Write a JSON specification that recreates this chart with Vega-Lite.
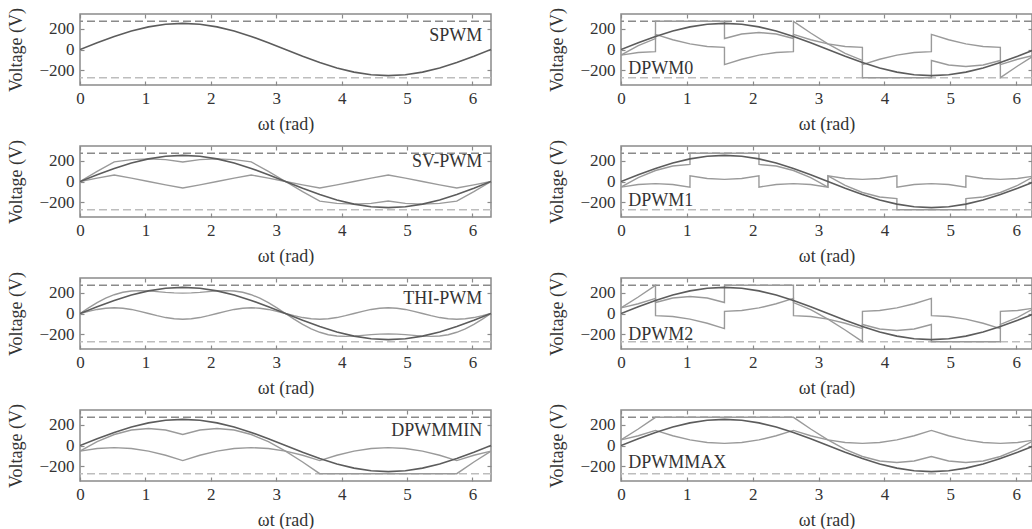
{
"$schema":"https://vega.github.io/schema/vega-lite/v6.json",
"background":"white",
"padding":{"left":7,"top":6,"right":0,"bottom":0},
"config":{
 "font":"Liberation Serif",
 "view":{"stroke":"#8a8a8a","strokeWidth":1.5},
 "axis":{"domain":false,"grid":false,"ticks":true,"tickColor":"#8a8a8a","tickSize":-4,"tickWidth":1.2,"labelFont":"Liberation Serif","labelFontSize":17,"labelColor":"#333333","labelFlush":false,"titleFont":"Liberation Serif","titleFontSize":18,"titleFontWeight":"normal","titleColor":"#333333"},
 "axisX":{"labelPadding":9,"titlePadding":9},
 "axisY":{"labelPadding":10,"titlePadding":13},
 "text":{"font":"Liberation Serif"}
},
"datasets":{
"sine":[{"t":0,"v":0},{"t":0.2618,"v":64.7},{"t":0.5236,"v":125},{"t":0.7854,"v":176.8},{"t":1.0472,"v":216.5},{"t":1.309,"v":241.5},{"t":1.5708,"v":250},{"t":1.8326,"v":241.5},{"t":2.0944,"v":216.5},{"t":2.3562,"v":176.8},{"t":2.618,"v":125},{"t":2.8798,"v":64.7},{"t":3.1416,"v":0},{"t":3.4034,"v":-64.7},{"t":3.6652,"v":-125},{"t":3.927,"v":-176.8},{"t":4.1888,"v":-216.5},{"t":4.4506,"v":-241.5},{"t":4.7124,"v":-250},{"t":4.9742,"v":-241.5},{"t":5.236,"v":-216.5},{"t":5.4978,"v":-176.8},{"t":5.7596,"v":-125},{"t":6.0214,"v":-64.7},{"t":6.2832,"v":0}],
"sv":[{"s":"m","t":0,"v":0},{"s":"m","t":0.2618,"v":97.1},{"s":"m","t":0.5236,"v":187.5},{"s":"m","t":0.7854,"v":209.2},{"s":"m","t":1.0472,"v":216.5},{"s":"m","t":1.309,"v":209.1},{"s":"m","t":1.5708,"v":187.5},{"s":"m","t":1.8326,"v":209.1},{"s":"m","t":2.0944,"v":216.5},{"s":"m","t":2.3562,"v":209.2},{"s":"m","t":2.618,"v":187.5},{"s":"m","t":2.8798,"v":97.1},{"s":"m","t":3.1416,"v":0},{"s":"m","t":3.4034,"v":-97.1},{"s":"m","t":3.6652,"v":-187.5},{"s":"m","t":3.927,"v":-209.2},{"s":"m","t":4.1888,"v":-216.5},{"s":"m","t":4.4506,"v":-209.1},{"s":"m","t":4.7124,"v":-187.5},{"s":"m","t":4.9742,"v":-209.1},{"s":"m","t":5.236,"v":-216.5},{"s":"m","t":5.4978,"v":-209.2},{"s":"m","t":5.7596,"v":-187.5},{"s":"m","t":6.0214,"v":-97.1},{"s":"m","t":6.2832,"v":0},
{"s":"z","t":0,"v":0},{"s":"z","t":0.2618,"v":32.4},{"s":"z","t":0.5236,"v":62.5},{"s":"z","t":0.7854,"v":32.4},{"s":"z","t":1.0472,"v":0},{"s":"z","t":1.309,"v":-32.4},{"s":"z","t":1.5708,"v":-62.5},{"s":"z","t":1.8326,"v":-32.4},{"s":"z","t":2.0944,"v":0},{"s":"z","t":2.3562,"v":32.4},{"s":"z","t":2.618,"v":62.5},{"s":"z","t":2.8798,"v":32.4},{"s":"z","t":3.1416,"v":0},{"s":"z","t":3.4034,"v":-32.4},{"s":"z","t":3.6652,"v":-62.5},{"s":"z","t":3.927,"v":-32.4},{"s":"z","t":4.1888,"v":0},{"s":"z","t":4.4506,"v":32.4},{"s":"z","t":4.7124,"v":62.5},{"s":"z","t":4.9742,"v":32.4},{"s":"z","t":5.236,"v":0},{"s":"z","t":5.4978,"v":-32.4},{"s":"z","t":5.7596,"v":-62.5},{"s":"z","t":6.0214,"v":-32.4},{"s":"z","t":6.2832,"v":0}],
"thi":[{"s":"m","t":0,"v":0},{"s":"m","t":0.1309,"v":53.6},{"s":"m","t":0.2618,"v":103.6},{"s":"m","t":0.3927,"v":146.5},{"s":"m","t":0.5236,"v":180},{"s":"m","t":0.6545,"v":203},{"s":"m","t":0.7854,"v":215.7},{"s":"m","t":0.9163,"v":219.3},{"s":"m","t":1.0472,"v":216.5},{"s":"m","t":1.1781,"v":210},{"s":"m","t":1.309,"v":202.6},{"s":"m","t":1.4399,"v":197.1},{"s":"m","t":1.5708,"v":195},{"s":"m","t":1.7017,"v":197.1},{"s":"m","t":1.8326,"v":202.6},{"s":"m","t":1.9635,"v":210},{"s":"m","t":2.0944,"v":216.5},{"s":"m","t":2.2253,"v":219.3},{"s":"m","t":2.3562,"v":215.7},{"s":"m","t":2.4871,"v":203},{"s":"m","t":2.618,"v":180},{"s":"m","t":2.7489,"v":146.5},{"s":"m","t":2.8798,"v":103.6},{"s":"m","t":3.0107,"v":53.6},{"s":"m","t":3.1416,"v":0},{"s":"m","t":3.2725,"v":-53.6},{"s":"m","t":3.4034,"v":-103.6},{"s":"m","t":3.5343,"v":-146.5},{"s":"m","t":3.6652,"v":-180},{"s":"m","t":3.7961,"v":-203},{"s":"m","t":3.927,"v":-215.7},{"s":"m","t":4.0579,"v":-219.3},{"s":"m","t":4.1888,"v":-216.5},{"s":"m","t":4.3197,"v":-210},{"s":"m","t":4.4506,"v":-202.6},{"s":"m","t":4.5815,"v":-197.1},{"s":"m","t":4.7124,"v":-195},{"s":"m","t":4.8433,"v":-197.1},{"s":"m","t":4.9742,"v":-202.6},{"s":"m","t":5.1051,"v":-210},{"s":"m","t":5.236,"v":-216.5},{"s":"m","t":5.3669,"v":-219.3},{"s":"m","t":5.4978,"v":-215.7},{"s":"m","t":5.6287,"v":-203},{"s":"m","t":5.7596,"v":-180},{"s":"m","t":5.8905,"v":-146.5},{"s":"m","t":6.0214,"v":-103.6},{"s":"m","t":6.1523,"v":-53.6},{"s":"m","t":6.2832,"v":0},
{"s":"z","t":0,"v":0},{"s":"z","t":0.1309,"v":21},{"s":"z","t":0.2618,"v":38.9},{"s":"z","t":0.3927,"v":50.8},{"s":"z","t":0.5236,"v":55},{"s":"z","t":0.6545,"v":50.8},{"s":"z","t":0.7854,"v":38.9},{"s":"z","t":0.9163,"v":21},{"s":"z","t":1.0472,"v":0},{"s":"z","t":1.1781,"v":-21},{"s":"z","t":1.309,"v":-38.9},{"s":"z","t":1.4399,"v":-50.8},{"s":"z","t":1.5708,"v":-55},{"s":"z","t":1.7017,"v":-50.8},{"s":"z","t":1.8326,"v":-38.9},{"s":"z","t":1.9635,"v":-21},{"s":"z","t":2.0944,"v":0},{"s":"z","t":2.2253,"v":21},{"s":"z","t":2.3562,"v":38.9},{"s":"z","t":2.4871,"v":50.8},{"s":"z","t":2.618,"v":55},{"s":"z","t":2.7489,"v":50.8},{"s":"z","t":2.8798,"v":38.9},{"s":"z","t":3.0107,"v":21},{"s":"z","t":3.1416,"v":0},{"s":"z","t":3.2725,"v":-21},{"s":"z","t":3.4034,"v":-38.9},{"s":"z","t":3.5343,"v":-50.8},{"s":"z","t":3.6652,"v":-55},{"s":"z","t":3.7961,"v":-50.8},{"s":"z","t":3.927,"v":-38.9},{"s":"z","t":4.0579,"v":-21},{"s":"z","t":4.1888,"v":0},{"s":"z","t":4.3197,"v":21},{"s":"z","t":4.4506,"v":38.9},{"s":"z","t":4.5815,"v":50.8},{"s":"z","t":4.7124,"v":55},{"s":"z","t":4.8433,"v":50.8},{"s":"z","t":4.9742,"v":38.9},{"s":"z","t":5.1051,"v":21},{"s":"z","t":5.236,"v":0},{"s":"z","t":5.3669,"v":-21},{"s":"z","t":5.4978,"v":-38.9},{"s":"z","t":5.6287,"v":-50.8},{"s":"z","t":5.7596,"v":-55},{"s":"z","t":5.8905,"v":-50.8},{"s":"z","t":6.0214,"v":-38.9},{"s":"z","t":6.1523,"v":-21},{"s":"z","t":6.2832,"v":0}],
"dmin":[{"s":"m","t":0,"v":-53.5},{"s":"m","t":0.2618,"v":36.2},{"s":"m","t":0.5236,"v":105},{"s":"m","t":0.7854,"v":148.3},{"s":"m","t":1.0472,"v":163},{"s":"m","t":1.309,"v":148.3},{"s":"m","t":1.5708,"v":105},{"s":"m","t":1.8326,"v":148.3},{"s":"m","t":2.0944,"v":163},{"s":"m","t":2.3562,"v":148.3},{"s":"m","t":2.618,"v":105},{"s":"m","t":2.8798,"v":36.2},{"s":"m","t":3.1416,"v":-53.5},{"s":"m","t":3.4034,"v":-157.9},{"s":"m","t":3.6652,"v":-270},{"s":"m","t":3.927,"v":-270},{"s":"m","t":4.1888,"v":-270},{"s":"m","t":4.4506,"v":-270},{"s":"m","t":4.7124,"v":-270},{"s":"m","t":4.9742,"v":-270},{"s":"m","t":5.236,"v":-270},{"s":"m","t":5.4978,"v":-270},{"s":"m","t":5.7596,"v":-270},{"s":"m","t":6.0214,"v":-157.9},{"s":"m","t":6.2832,"v":-53.5},
{"s":"z","t":0,"v":-53.5},{"s":"z","t":0.2618,"v":-28.5},{"s":"z","t":0.5236,"v":-20},{"s":"z","t":0.7854,"v":-28.5},{"s":"z","t":1.0472,"v":-53.5},{"s":"z","t":1.309,"v":-93.2},{"s":"z","t":1.5708,"v":-145},{"s":"z","t":1.8326,"v":-93.2},{"s":"z","t":2.0944,"v":-53.5},{"s":"z","t":2.3562,"v":-28.5},{"s":"z","t":2.618,"v":-20},{"s":"z","t":2.8798,"v":-28.5},{"s":"z","t":3.1416,"v":-53.5},{"s":"z","t":3.4034,"v":-93.2},{"s":"z","t":3.6652,"v":-145},{"s":"z","t":3.927,"v":-93.2},{"s":"z","t":4.1888,"v":-53.5},{"s":"z","t":4.4506,"v":-28.5},{"s":"z","t":4.7124,"v":-20},{"s":"z","t":4.9742,"v":-28.5},{"s":"z","t":5.236,"v":-53.5},{"s":"z","t":5.4978,"v":-93.2},{"s":"z","t":5.7596,"v":-145},{"s":"z","t":6.0214,"v":-93.2},{"s":"z","t":6.2832,"v":-53.5}],
"d0":[{"s":"m","t":0,"v":-53.5},{"s":"m","t":0.2618,"v":36.2},{"s":"m","t":0.5236,"v":105},{"s":"m","t":0.5241,"v":270},{"s":"m","t":0.7854,"v":270},{"s":"m","t":1.0472,"v":270},{"s":"m","t":1.309,"v":270},{"s":"m","t":1.5708,"v":270},{"s":"m","t":1.5713,"v":105},{"s":"m","t":1.8326,"v":148.3},{"s":"m","t":2.0944,"v":163},{"s":"m","t":2.3562,"v":148.3},{"s":"m","t":2.618,"v":105},{"s":"m","t":2.6185,"v":270},{"s":"m","t":2.8798,"v":157.9},{"s":"m","t":3.1416,"v":53.5},{"s":"m","t":3.4034,"v":-36.2},{"s":"m","t":3.6652,"v":-105},{"s":"m","t":3.6657,"v":-270},{"s":"m","t":3.927,"v":-270},{"s":"m","t":4.1888,"v":-270},{"s":"m","t":4.4506,"v":-270},{"s":"m","t":4.7124,"v":-270},{"s":"m","t":4.7129,"v":-105},{"s":"m","t":4.9742,"v":-148.3},{"s":"m","t":5.236,"v":-163},{"s":"m","t":5.4978,"v":-148.3},{"s":"m","t":5.7596,"v":-105},{"s":"m","t":5.7601,"v":-270},{"s":"m","t":6.0214,"v":-157.9},{"s":"m","t":6.2832,"v":-53.5},
{"s":"z","t":0,"v":-53.5},{"s":"z","t":0.2618,"v":-28.5},{"s":"z","t":0.5236,"v":-20},{"s":"z","t":0.5241,"v":145},{"s":"z","t":0.7854,"v":93.2},{"s":"z","t":1.0472,"v":53.5},{"s":"z","t":1.309,"v":28.5},{"s":"z","t":1.5708,"v":20},{"s":"z","t":1.5713,"v":-145},{"s":"z","t":1.8326,"v":-93.2},{"s":"z","t":2.0944,"v":-53.5},{"s":"z","t":2.3562,"v":-28.5},{"s":"z","t":2.618,"v":-20},{"s":"z","t":2.6185,"v":145},{"s":"z","t":2.8798,"v":93.2},{"s":"z","t":3.1416,"v":53.5},{"s":"z","t":3.4034,"v":28.5},{"s":"z","t":3.6652,"v":20},{"s":"z","t":3.6657,"v":-145},{"s":"z","t":3.927,"v":-93.2},{"s":"z","t":4.1888,"v":-53.5},{"s":"z","t":4.4506,"v":-28.5},{"s":"z","t":4.7124,"v":-20},{"s":"z","t":4.7129,"v":145},{"s":"z","t":4.9742,"v":93.2},{"s":"z","t":5.236,"v":53.5},{"s":"z","t":5.4978,"v":28.5},{"s":"z","t":5.7596,"v":20},{"s":"z","t":5.7601,"v":-145},{"s":"z","t":6.0214,"v":-93.2},{"s":"z","t":6.2832,"v":-53.5}],
"d1":[{"s":"m","t":0,"v":-53.5},{"s":"m","t":0.2618,"v":36.2},{"s":"m","t":0.5236,"v":105},{"s":"m","t":0.7854,"v":148.3},{"s":"m","t":1.0472,"v":163},{"s":"m","t":1.0477,"v":270},{"s":"m","t":1.309,"v":270},{"s":"m","t":1.5708,"v":270},{"s":"m","t":1.8326,"v":270},{"s":"m","t":2.0944,"v":270},{"s":"m","t":2.0949,"v":163},{"s":"m","t":2.3562,"v":148.3},{"s":"m","t":2.618,"v":105},{"s":"m","t":2.8798,"v":36.2},{"s":"m","t":3.1416,"v":-53.5},{"s":"m","t":3.1421,"v":53.5},{"s":"m","t":3.4034,"v":-36.2},{"s":"m","t":3.6652,"v":-105},{"s":"m","t":3.927,"v":-148.3},{"s":"m","t":4.1888,"v":-163},{"s":"m","t":4.1893,"v":-270},{"s":"m","t":4.4506,"v":-270},{"s":"m","t":4.7124,"v":-270},{"s":"m","t":4.9742,"v":-270},{"s":"m","t":5.236,"v":-270},{"s":"m","t":5.2365,"v":-163},{"s":"m","t":5.4978,"v":-148.3},{"s":"m","t":5.7596,"v":-105},{"s":"m","t":6.0214,"v":-36.2},{"s":"m","t":6.2832,"v":53.5},
{"s":"z","t":0,"v":-53.5},{"s":"z","t":0.2618,"v":-28.5},{"s":"z","t":0.5236,"v":-20},{"s":"z","t":0.7854,"v":-28.5},{"s":"z","t":1.0472,"v":-53.5},{"s":"z","t":1.0477,"v":53.5},{"s":"z","t":1.309,"v":28.5},{"s":"z","t":1.5708,"v":20},{"s":"z","t":1.8326,"v":28.5},{"s":"z","t":2.0944,"v":53.5},{"s":"z","t":2.0949,"v":-53.5},{"s":"z","t":2.3562,"v":-28.5},{"s":"z","t":2.618,"v":-20},{"s":"z","t":2.8798,"v":-28.5},{"s":"z","t":3.1416,"v":-53.5},{"s":"z","t":3.1421,"v":53.5},{"s":"z","t":3.4034,"v":28.5},{"s":"z","t":3.6652,"v":20},{"s":"z","t":3.927,"v":28.5},{"s":"z","t":4.1888,"v":53.5},{"s":"z","t":4.1893,"v":-53.5},{"s":"z","t":4.4506,"v":-28.5},{"s":"z","t":4.7124,"v":-20},{"s":"z","t":4.9742,"v":-28.5},{"s":"z","t":5.236,"v":-53.5},{"s":"z","t":5.2365,"v":53.5},{"s":"z","t":5.4978,"v":28.5},{"s":"z","t":5.7596,"v":20},{"s":"z","t":6.0214,"v":28.5},{"s":"z","t":6.2832,"v":53.5}],
"d2":[{"s":"m","t":0,"v":53.5},{"s":"m","t":0.2618,"v":157.9},{"s":"m","t":0.5236,"v":270},{"s":"m","t":0.5241,"v":105},{"s":"m","t":0.7854,"v":148.3},{"s":"m","t":1.0472,"v":163},{"s":"m","t":1.309,"v":148.3},{"s":"m","t":1.5708,"v":105},{"s":"m","t":1.5713,"v":270},{"s":"m","t":1.8326,"v":270},{"s":"m","t":2.0944,"v":270},{"s":"m","t":2.3562,"v":270},{"s":"m","t":2.618,"v":270},{"s":"m","t":2.6185,"v":105},{"s":"m","t":2.8798,"v":36.2},{"s":"m","t":3.1416,"v":-53.5},{"s":"m","t":3.4034,"v":-157.9},{"s":"m","t":3.6652,"v":-270},{"s":"m","t":3.6657,"v":-105},{"s":"m","t":3.927,"v":-148.3},{"s":"m","t":4.1888,"v":-163},{"s":"m","t":4.4506,"v":-148.3},{"s":"m","t":4.7124,"v":-105},{"s":"m","t":4.7129,"v":-270},{"s":"m","t":4.9742,"v":-270},{"s":"m","t":5.236,"v":-270},{"s":"m","t":5.4978,"v":-270},{"s":"m","t":5.7596,"v":-270},{"s":"m","t":5.7601,"v":-105},{"s":"m","t":6.0214,"v":-36.2},{"s":"m","t":6.2832,"v":53.5},
{"s":"z","t":0,"v":53.5},{"s":"z","t":0.2618,"v":93.2},{"s":"z","t":0.5236,"v":145},{"s":"z","t":0.5241,"v":-20},{"s":"z","t":0.7854,"v":-28.5},{"s":"z","t":1.0472,"v":-53.5},{"s":"z","t":1.309,"v":-93.2},{"s":"z","t":1.5708,"v":-145},{"s":"z","t":1.5713,"v":20},{"s":"z","t":1.8326,"v":28.5},{"s":"z","t":2.0944,"v":53.5},{"s":"z","t":2.3562,"v":93.2},{"s":"z","t":2.618,"v":145},{"s":"z","t":2.6185,"v":-20},{"s":"z","t":2.8798,"v":-28.5},{"s":"z","t":3.1416,"v":-53.5},{"s":"z","t":3.4034,"v":-93.2},{"s":"z","t":3.6652,"v":-145},{"s":"z","t":3.6657,"v":20},{"s":"z","t":3.927,"v":28.5},{"s":"z","t":4.1888,"v":53.5},{"s":"z","t":4.4506,"v":93.2},{"s":"z","t":4.7124,"v":145},{"s":"z","t":4.7129,"v":-20},{"s":"z","t":4.9742,"v":-28.5},{"s":"z","t":5.236,"v":-53.5},{"s":"z","t":5.4978,"v":-93.2},{"s":"z","t":5.7596,"v":-145},{"s":"z","t":5.7601,"v":20},{"s":"z","t":6.0214,"v":28.5},{"s":"z","t":6.2832,"v":53.5}],
"dmax":[{"s":"m","t":0,"v":53.5},{"s":"m","t":0.2618,"v":157.9},{"s":"m","t":0.5236,"v":270},{"s":"m","t":0.7854,"v":270},{"s":"m","t":1.0472,"v":270},{"s":"m","t":1.309,"v":270},{"s":"m","t":1.5708,"v":270},{"s":"m","t":1.8326,"v":270},{"s":"m","t":2.0944,"v":270},{"s":"m","t":2.3562,"v":270},{"s":"m","t":2.618,"v":270},{"s":"m","t":2.8798,"v":157.9},{"s":"m","t":3.1416,"v":53.5},{"s":"m","t":3.4034,"v":-36.2},{"s":"m","t":3.6652,"v":-105},{"s":"m","t":3.927,"v":-148.3},{"s":"m","t":4.1888,"v":-163},{"s":"m","t":4.4506,"v":-148.3},{"s":"m","t":4.7124,"v":-105},{"s":"m","t":4.9742,"v":-148.3},{"s":"m","t":5.236,"v":-163},{"s":"m","t":5.4978,"v":-148.3},{"s":"m","t":5.7596,"v":-105},{"s":"m","t":6.0214,"v":-36.2},{"s":"m","t":6.2832,"v":53.5},
{"s":"z","t":0,"v":53.5},{"s":"z","t":0.2618,"v":93.2},{"s":"z","t":0.5236,"v":145},{"s":"z","t":0.7854,"v":93.2},{"s":"z","t":1.0472,"v":53.5},{"s":"z","t":1.309,"v":28.5},{"s":"z","t":1.5708,"v":20},{"s":"z","t":1.8326,"v":28.5},{"s":"z","t":2.0944,"v":53.5},{"s":"z","t":2.3562,"v":93.2},{"s":"z","t":2.618,"v":145},{"s":"z","t":2.8798,"v":93.2},{"s":"z","t":3.1416,"v":53.5},{"s":"z","t":3.4034,"v":28.5},{"s":"z","t":3.6652,"v":20},{"s":"z","t":3.927,"v":28.5},{"s":"z","t":4.1888,"v":53.5},{"s":"z","t":4.4506,"v":93.2},{"s":"z","t":4.7124,"v":145},{"s":"z","t":4.9742,"v":93.2},{"s":"z","t":5.236,"v":53.5},{"s":"z","t":5.4978,"v":28.5},{"s":"z","t":5.7596,"v":20},{"s":"z","t":6.0214,"v":28.5},{"s":"z","t":6.2832,"v":53.5}]
},
"columns":2,
"spacing":{"row":61,"column":130},
"bounds":"flush",
"concat":[
{"width":411,"height":71,"resolve":{"axis":{"x":"independent","y":"independent"}},"layer":[
 {"data":{"values":[{}]},"mark":{"type":"rule","color":"#8a8a8a","strokeDash":[8,4],"strokeWidth":1.5},"encoding":{"y":{"datum":270,"axis":null}}},
 {"data":{"values":[{}]},"mark":{"type":"rule","color":"#bdbdbd","strokeDash":[8,4],"strokeWidth":1.5},"encoding":{"y":{"datum":-270,"axis":null}}},
 {"data":{"name":"sine"},"mark":{"type":"line","color":"#5c5c5c","strokeWidth":1.6,"clip":true},"encoding":{"x":{"field":"t","type":"quantitative","scale":{"domain":[0,6.2832],"nice":false,"zero":false},"axis":{"orient":"bottom","values":[0,1,2,3,4,5,6],"title":"ωt (rad)"}},"y":{"field":"v","type":"quantitative","scale":{"domain":[-340,340],"nice":false,"zero":false},"axis":{"orient":"left","values":[-200,0,200],"title":"Voltage (V)"}}}},
 {"data":{"name":"sine"},"mark":{"type":"line","opacity":0},"encoding":{"x":{"field":"t","type":"quantitative","scale":{"domain":[0,6.2832],"nice":false,"zero":false},"axis":{"orient":"top","values":[0,1,2,3,4,5,6],"labels":false,"title":null}},"y":{"field":"v","type":"quantitative","scale":{"domain":[-340,340],"nice":false,"zero":false},"axis":{"orient":"right","values":[-200,0,200],"labels":false,"title":null}}}},
 {"data":{"values":[{"label":"SPWM"}]},"mark":{"type":"text","align":"right","baseline":"middle","fontSize":18,"color":"#333333"},"encoding":{"text":{"field":"label"},"x":{"datum":6.15,"axis":null},"y":{"datum":125,"axis":null}}}
]},
{"width":411,"height":71,"resolve":{"axis":{"x":"independent","y":"independent"}},"layer":[
 {"data":{"values":[{}]},"mark":{"type":"rule","color":"#8a8a8a","strokeDash":[8,4],"strokeWidth":1.5},"encoding":{"y":{"datum":270,"axis":null}}},
 {"data":{"values":[{}]},"mark":{"type":"rule","color":"#bdbdbd","strokeDash":[8,4],"strokeWidth":1.5},"encoding":{"y":{"datum":-270,"axis":null}}},
 {"data":{"name":"d0"},"mark":{"type":"line","color":"#9a9a9a","strokeWidth":1.4,"clip":true},"encoding":{"detail":{"field":"s"},"x":{"field":"t","type":"quantitative","scale":{"domain":[0,6.24],"nice":false,"zero":false},"axis":null},"y":{"field":"v","type":"quantitative","scale":{"domain":[-340,340],"nice":false,"zero":false},"axis":null}}},
 {"data":{"name":"sine"},"mark":{"type":"line","color":"#5c5c5c","strokeWidth":1.6,"clip":true},"encoding":{"x":{"field":"t","type":"quantitative","scale":{"domain":[0,6.24],"nice":false,"zero":false},"axis":{"orient":"bottom","values":[0,1,2,3,4,5,6],"title":"ωt (rad)"}},"y":{"field":"v","type":"quantitative","scale":{"domain":[-340,340],"nice":false,"zero":false},"axis":{"orient":"left","values":[-200,0,200],"title":"Voltage (V)"}}}},
 {"data":{"name":"sine"},"mark":{"type":"line","opacity":0},"encoding":{"x":{"field":"t","type":"quantitative","scale":{"domain":[0,6.24],"nice":false,"zero":false},"axis":{"orient":"top","values":[0,1,2,3,4,5,6],"labels":false,"title":null}},"y":{"field":"v","type":"quantitative","scale":{"domain":[-340,340],"nice":false,"zero":false},"axis":{"orient":"right","values":[-200,0,200],"labels":false,"title":null}}}},
 {"data":{"values":[{"label":"DPWM0"}]},"mark":{"type":"text","align":"left","baseline":"middle","fontSize":18,"color":"#333333"},"encoding":{"text":{"field":"label"},"x":{"datum":0.11,"axis":null},"y":{"datum":-184,"axis":null}}}
]},
{"width":411,"height":71,"resolve":{"axis":{"x":"independent","y":"independent"}},"layer":[
 {"data":{"values":[{}]},"mark":{"type":"rule","color":"#8a8a8a","strokeDash":[8,4],"strokeWidth":1.5},"encoding":{"y":{"datum":270,"axis":null}}},
 {"data":{"values":[{}]},"mark":{"type":"rule","color":"#bdbdbd","strokeDash":[8,4],"strokeWidth":1.5},"encoding":{"y":{"datum":-270,"axis":null}}},
 {"data":{"name":"sv"},"mark":{"type":"line","color":"#9a9a9a","strokeWidth":1.4,"clip":true},"encoding":{"detail":{"field":"s"},"x":{"field":"t","type":"quantitative","scale":{"domain":[0,6.2832],"nice":false,"zero":false},"axis":null},"y":{"field":"v","type":"quantitative","scale":{"domain":[-340,340],"nice":false,"zero":false},"axis":null}}},
 {"data":{"name":"sine"},"mark":{"type":"line","color":"#5c5c5c","strokeWidth":1.6,"clip":true},"encoding":{"x":{"field":"t","type":"quantitative","scale":{"domain":[0,6.2832],"nice":false,"zero":false},"axis":{"orient":"bottom","values":[0,1,2,3,4,5,6],"title":"ωt (rad)"}},"y":{"field":"v","type":"quantitative","scale":{"domain":[-340,340],"nice":false,"zero":false},"axis":{"orient":"left","values":[-200,0,200],"title":"Voltage (V)"}}}},
 {"data":{"name":"sine"},"mark":{"type":"line","opacity":0},"encoding":{"x":{"field":"t","type":"quantitative","scale":{"domain":[0,6.2832],"nice":false,"zero":false},"axis":{"orient":"top","values":[0,1,2,3,4,5,6],"labels":false,"title":null}},"y":{"field":"v","type":"quantitative","scale":{"domain":[-340,340],"nice":false,"zero":false},"axis":{"orient":"right","values":[-200,0,200],"labels":false,"title":null}}}},
 {"data":{"values":[{"label":"SV-PWM"}]},"mark":{"type":"text","align":"right","baseline":"middle","fontSize":18,"color":"#333333"},"encoding":{"text":{"field":"label"},"x":{"datum":6.15,"axis":null},"y":{"datum":190,"axis":null}}}
]},
{"width":411,"height":71,"resolve":{"axis":{"x":"independent","y":"independent"}},"layer":[
 {"data":{"values":[{}]},"mark":{"type":"rule","color":"#8a8a8a","strokeDash":[8,4],"strokeWidth":1.5},"encoding":{"y":{"datum":270,"axis":null}}},
 {"data":{"values":[{}]},"mark":{"type":"rule","color":"#bdbdbd","strokeDash":[8,4],"strokeWidth":1.5},"encoding":{"y":{"datum":-270,"axis":null}}},
 {"data":{"name":"d1"},"mark":{"type":"line","color":"#9a9a9a","strokeWidth":1.4,"clip":true},"encoding":{"detail":{"field":"s"},"x":{"field":"t","type":"quantitative","scale":{"domain":[0,6.24],"nice":false,"zero":false},"axis":null},"y":{"field":"v","type":"quantitative","scale":{"domain":[-340,340],"nice":false,"zero":false},"axis":null}}},
 {"data":{"name":"sine"},"mark":{"type":"line","color":"#5c5c5c","strokeWidth":1.6,"clip":true},"encoding":{"x":{"field":"t","type":"quantitative","scale":{"domain":[0,6.24],"nice":false,"zero":false},"axis":{"orient":"bottom","values":[0,1,2,3,4,5,6],"title":"ωt (rad)"}},"y":{"field":"v","type":"quantitative","scale":{"domain":[-340,340],"nice":false,"zero":false},"axis":{"orient":"left","values":[-200,0,200],"title":"Voltage (V)"}}}},
 {"data":{"name":"sine"},"mark":{"type":"line","opacity":0},"encoding":{"x":{"field":"t","type":"quantitative","scale":{"domain":[0,6.24],"nice":false,"zero":false},"axis":{"orient":"top","values":[0,1,2,3,4,5,6],"labels":false,"title":null}},"y":{"field":"v","type":"quantitative","scale":{"domain":[-340,340],"nice":false,"zero":false},"axis":{"orient":"right","values":[-200,0,200],"labels":false,"title":null}}}},
 {"data":{"values":[{"label":"DPWM1"}]},"mark":{"type":"text","align":"left","baseline":"middle","fontSize":18,"color":"#333333"},"encoding":{"text":{"field":"label"},"x":{"datum":0.11,"axis":null},"y":{"datum":-184,"axis":null}}}
]},
{"width":411,"height":71,"resolve":{"axis":{"x":"independent","y":"independent"}},"layer":[
 {"data":{"values":[{}]},"mark":{"type":"rule","color":"#8a8a8a","strokeDash":[8,4],"strokeWidth":1.5},"encoding":{"y":{"datum":270,"axis":null}}},
 {"data":{"values":[{}]},"mark":{"type":"rule","color":"#bdbdbd","strokeDash":[8,4],"strokeWidth":1.5},"encoding":{"y":{"datum":-270,"axis":null}}},
 {"data":{"name":"thi"},"mark":{"type":"line","color":"#9a9a9a","strokeWidth":1.4,"clip":true},"encoding":{"detail":{"field":"s"},"x":{"field":"t","type":"quantitative","scale":{"domain":[0,6.2832],"nice":false,"zero":false},"axis":null},"y":{"field":"v","type":"quantitative","scale":{"domain":[-340,340],"nice":false,"zero":false},"axis":null}}},
 {"data":{"name":"sine"},"mark":{"type":"line","color":"#5c5c5c","strokeWidth":1.6,"clip":true},"encoding":{"x":{"field":"t","type":"quantitative","scale":{"domain":[0,6.2832],"nice":false,"zero":false},"axis":{"orient":"bottom","values":[0,1,2,3,4,5,6],"title":"ωt (rad)"}},"y":{"field":"v","type":"quantitative","scale":{"domain":[-340,340],"nice":false,"zero":false},"axis":{"orient":"left","values":[-200,0,200],"title":"Voltage (V)"}}}},
 {"data":{"name":"sine"},"mark":{"type":"line","opacity":0},"encoding":{"x":{"field":"t","type":"quantitative","scale":{"domain":[0,6.2832],"nice":false,"zero":false},"axis":{"orient":"top","values":[0,1,2,3,4,5,6],"labels":false,"title":null}},"y":{"field":"v","type":"quantitative","scale":{"domain":[-340,340],"nice":false,"zero":false},"axis":{"orient":"right","values":[-200,0,200],"labels":false,"title":null}}}},
 {"data":{"values":[{"label":"THI-PWM"}]},"mark":{"type":"text","align":"right","baseline":"middle","fontSize":18,"color":"#333333"},"encoding":{"text":{"field":"label"},"x":{"datum":6.15,"axis":null},"y":{"datum":141,"axis":null}}}
]},
{"width":411,"height":71,"resolve":{"axis":{"x":"independent","y":"independent"}},"layer":[
 {"data":{"values":[{}]},"mark":{"type":"rule","color":"#8a8a8a","strokeDash":[8,4],"strokeWidth":1.5},"encoding":{"y":{"datum":270,"axis":null}}},
 {"data":{"values":[{}]},"mark":{"type":"rule","color":"#bdbdbd","strokeDash":[8,4],"strokeWidth":1.5},"encoding":{"y":{"datum":-270,"axis":null}}},
 {"data":{"name":"d2"},"mark":{"type":"line","color":"#9a9a9a","strokeWidth":1.4,"clip":true},"encoding":{"detail":{"field":"s"},"x":{"field":"t","type":"quantitative","scale":{"domain":[0,6.24],"nice":false,"zero":false},"axis":null},"y":{"field":"v","type":"quantitative","scale":{"domain":[-340,340],"nice":false,"zero":false},"axis":null}}},
 {"data":{"name":"sine"},"mark":{"type":"line","color":"#5c5c5c","strokeWidth":1.6,"clip":true},"encoding":{"x":{"field":"t","type":"quantitative","scale":{"domain":[0,6.24],"nice":false,"zero":false},"axis":{"orient":"bottom","values":[0,1,2,3,4,5,6],"title":"ωt (rad)"}},"y":{"field":"v","type":"quantitative","scale":{"domain":[-340,340],"nice":false,"zero":false},"axis":{"orient":"left","values":[-200,0,200],"title":"Voltage (V)"}}}},
 {"data":{"name":"sine"},"mark":{"type":"line","opacity":0},"encoding":{"x":{"field":"t","type":"quantitative","scale":{"domain":[0,6.24],"nice":false,"zero":false},"axis":{"orient":"top","values":[0,1,2,3,4,5,6],"labels":false,"title":null}},"y":{"field":"v","type":"quantitative","scale":{"domain":[-340,340],"nice":false,"zero":false},"axis":{"orient":"right","values":[-200,0,200],"labels":false,"title":null}}}},
 {"data":{"values":[{"label":"DPWM2"}]},"mark":{"type":"text","align":"left","baseline":"middle","fontSize":18,"color":"#333333"},"encoding":{"text":{"field":"label"},"x":{"datum":0.11,"axis":null},"y":{"datum":-205,"axis":null}}}
]},
{"width":411,"height":71,"resolve":{"axis":{"x":"independent","y":"independent"}},"layer":[
 {"data":{"values":[{}]},"mark":{"type":"rule","color":"#8a8a8a","strokeDash":[8,4],"strokeWidth":1.5},"encoding":{"y":{"datum":270,"axis":null}}},
 {"data":{"values":[{}]},"mark":{"type":"rule","color":"#bdbdbd","strokeDash":[8,4],"strokeWidth":1.5},"encoding":{"y":{"datum":-270,"axis":null}}},
 {"data":{"name":"dmin"},"mark":{"type":"line","color":"#9a9a9a","strokeWidth":1.4,"clip":true},"encoding":{"detail":{"field":"s"},"x":{"field":"t","type":"quantitative","scale":{"domain":[0,6.2832],"nice":false,"zero":false},"axis":null},"y":{"field":"v","type":"quantitative","scale":{"domain":[-340,340],"nice":false,"zero":false},"axis":null}}},
 {"data":{"name":"sine"},"mark":{"type":"line","color":"#5c5c5c","strokeWidth":1.6,"clip":true},"encoding":{"x":{"field":"t","type":"quantitative","scale":{"domain":[0,6.2832],"nice":false,"zero":false},"axis":{"orient":"bottom","values":[0,1,2,3,4,5,6],"title":"ωt (rad)"}},"y":{"field":"v","type":"quantitative","scale":{"domain":[-340,340],"nice":false,"zero":false},"axis":{"orient":"left","values":[-200,0,200],"title":"Voltage (V)"}}}},
 {"data":{"name":"sine"},"mark":{"type":"line","opacity":0},"encoding":{"x":{"field":"t","type":"quantitative","scale":{"domain":[0,6.2832],"nice":false,"zero":false},"axis":{"orient":"top","values":[0,1,2,3,4,5,6],"labels":false,"title":null}},"y":{"field":"v","type":"quantitative","scale":{"domain":[-340,340],"nice":false,"zero":false},"axis":{"orient":"right","values":[-200,0,200],"labels":false,"title":null}}}},
 {"data":{"values":[{"label":"DPWMMIN"}]},"mark":{"type":"text","align":"right","baseline":"middle","fontSize":18,"color":"#333333"},"encoding":{"text":{"field":"label"},"x":{"datum":6.15,"axis":null},"y":{"datum":138,"axis":null}}}
]},
{"width":411,"height":71,"resolve":{"axis":{"x":"independent","y":"independent"}},"layer":[
 {"data":{"values":[{}]},"mark":{"type":"rule","color":"#8a8a8a","strokeDash":[8,4],"strokeWidth":1.5},"encoding":{"y":{"datum":270,"axis":null}}},
 {"data":{"values":[{}]},"mark":{"type":"rule","color":"#bdbdbd","strokeDash":[8,4],"strokeWidth":1.5},"encoding":{"y":{"datum":-270,"axis":null}}},
 {"data":{"name":"dmax"},"mark":{"type":"line","color":"#9a9a9a","strokeWidth":1.4,"clip":true},"encoding":{"detail":{"field":"s"},"x":{"field":"t","type":"quantitative","scale":{"domain":[0,6.24],"nice":false,"zero":false},"axis":null},"y":{"field":"v","type":"quantitative","scale":{"domain":[-340,340],"nice":false,"zero":false},"axis":null}}},
 {"data":{"name":"sine"},"mark":{"type":"line","color":"#5c5c5c","strokeWidth":1.6,"clip":true},"encoding":{"x":{"field":"t","type":"quantitative","scale":{"domain":[0,6.24],"nice":false,"zero":false},"axis":{"orient":"bottom","values":[0,1,2,3,4,5,6],"title":"ωt (rad)"}},"y":{"field":"v","type":"quantitative","scale":{"domain":[-340,340],"nice":false,"zero":false},"axis":{"orient":"left","values":[-200,0,200],"title":"Voltage (V)"}}}},
 {"data":{"name":"sine"},"mark":{"type":"line","opacity":0},"encoding":{"x":{"field":"t","type":"quantitative","scale":{"domain":[0,6.24],"nice":false,"zero":false},"axis":{"orient":"top","values":[0,1,2,3,4,5,6],"labels":false,"title":null}},"y":{"field":"v","type":"quantitative","scale":{"domain":[-340,340],"nice":false,"zero":false},"axis":{"orient":"right","values":[-200,0,200],"labels":false,"title":null}}}},
 {"data":{"values":[{"label":"DPWMMAX"}]},"mark":{"type":"text","align":"left","baseline":"middle","fontSize":18,"color":"#333333"},"encoding":{"text":{"field":"label"},"x":{"datum":0.11,"axis":null},"y":{"datum":-168,"axis":null}}}
]}
]
}
